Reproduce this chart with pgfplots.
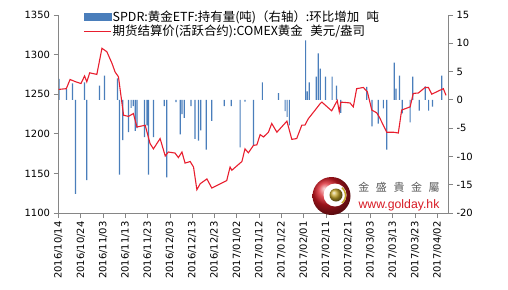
\documentclass[border=0pt]{standalone}
\usepackage{fontspec}
\setmainfont{DejaVu Sans}
\newfontfamily\cjk{Noto Sans CJK SC}
\newfontfamily\cjktc{Noto Sans CJK TC}
\newfontfamily\arial{Liberation Sans}
\usepackage{pgfplots}
\pgfplotsset{compat=1.18}
\definecolor{barblue}{RGB}{74,126,187}
\definecolor{linered}{RGB}{232,30,46}
\definecolor{axgray}{RGB}{134,134,134}
\definecolor{logored}{RGB}{215,25,35}
\definecolor{goldc}{RGB}{196,164,40}
\begin{document}
\begin{tikzpicture}[x=1bp,y=1bp]
\useasboundingbox (0,0) rectangle (508,289);
\pgfplotsset{
  common/.style={
    scale only axis, width=389.5bp, height=198bp,
    at={(58.5bp,76bp)}, anchor=south west,
    xmin=0, xmax=174.8,
    axis line style={axgray, line width=0.8bp},
    tick style={axgray, line width=0.8bp},
    major tick length=5bp, tick align=outside,
    tick label style={font=\fontsize{10}{12}\selectfont, black},
    /pgf/number format/assume math mode=true,
    /pgf/number format/1000 sep={},
    scaled y ticks=false,
  }
}
\begin{axis}[common,
  axis x line=none, axis y line*=right,
  ymin=-20, ymax=15, ytick={-20,-15,...,15},
  yticklabel style={anchor=west},
]
\addplot[ybar, bar width=1.2bp, fill=barblue, draw=none] coordinates {
(0.2,3.7) (3.6,1.9) (6.3,2.9) (7.6,-16.6) (11.7,3.1) (12.7,-14.2)
(18.4,2.5) (20.6,4.3) (26.5,3.8) (27.4,-13.2) (28.8,-7.1) (31.4,-5.7)
(32.6,-1.4) (33.5,-1.1) (34.4,-5.5) (35.2,-5.0) (38.6,-6.6) (39.7,-4.5)
(40.4,-13.2) (42.6,-6.6) (47.5,-1.1) (48.6,-13.7) (52.7,-0.4) (54.6,-6.1)
(55.4,-2.5) (56.4,-3.2) (59.5,-1.1) (61.3,-6.9) (62.8,-7.2) (63.8,-5.4)
(66.3,-8.8) (68.8,-3.7) (74.4,-1.1) (77.5,-1.1) (81.5,-8.4) (83.7,-0.3)
(87.5,-8.1) (91.5,3.1) (98.7,1.2) (101.7,-2.0) (102.6,-3.0) (103.6,-4.5)
(110.9,10.5) (111.6,1.5) (112.5,3.1) (115.7,4.1) (116.6,8.2) (117.5,5.5)
(119.8,4.1) (122.8,4.1) (124.8,2.5) (126.7,-2.3) (138.3,2.3) (140.7,-4.7)
(143.5,-4.2) (145.8,-1.5) (147.3,-8.8) (150.7,6.6) (151.5,2.0) (153.0,4.3)
(154.3,-2.4) (157.8,-4.0) (159.0,4.1) (161.9,-1.9) (164.6,2.4) (166.1,-1.9)
(167.8,-1.2) (172.0,4.3)
};
\end{axis}
\begin{axis}[common,
  axis x line*=bottom, axis y line*=left,
  ymin=1100, ymax=1350, ytick={1100,1150,...,1350},
  xtick={0,10,...,170},
  xticklabels={2016/10/14,2016/10/24,2016/11/03,2016/11/13,2016/11/23,2016/12/03,2016/12/13,2016/12/23,2017/01/02,2017/01/12,2017/01/22,2017/02/01,2017/02/11,2017/02/21,2017/03/03,2017/03/13,2017/03/23,2017/04/02},
  xticklabel style={rotate=90, anchor=east},
  legend style={at={(axis description cs:0.063,1.03)}, anchor=north west,
    draw=none, fill=none, inner sep=0pt, row sep=0bp,
    nodes={inner sep=1.3bp},
    font=\cjk\fontsize{12.5}{13}\selectfont,
    /tikz/every even column/.append style={column sep=1.5bp}},
  legend cell align=left,
]
\addlegendimage{legend image code/.code={\fill[barblue] (0bp,-3.5bp) rectangle (27bp,3.5bp);}}
\addlegendentry{SPDR:黄金ETF:持有量(吨)（右轴）:环比增加\hspace{0.6em}吨}
\addplot[linered, line width=1.1bp, legend image code/.code={\draw[linered, line width=1.1bp] (0bp,0bp) -- (27bp,0bp);}] coordinates {
(0,1256) (3.5,1257) (5.2,1268.6) (7.4,1266) (10.1,1263.5) (11.7,1273)
(12.7,1265.6) (14.0,1277) (17.2,1275) (19.5,1308) (21.7,1303.6) (24.0,1289)
(25.4,1278) (26.9,1272) (29.2,1223.4) (31.4,1222) (33.6,1225.6) (35.2,1208.6)
(38.9,1210.8) (41.1,1187.6) (42.6,1181) (45.6,1194) (47.9,1172) (49.3,1177)
(52.3,1175.7) (53.8,1170) (55.4,1177) (56.8,1163) (59.1,1165) (60.6,1158)
(62.1,1129.4) (63.6,1137) (66.6,1143) (68.8,1131.5) (75.5,1141) (77.0,1158)
(77.8,1154) (82.3,1165) (83.7,1181) (85.2,1176) (87.5,1185.4) (89.0,1186)
(90.5,1199) (92.0,1196) (94.2,1202) (95.7,1213) (98.0,1202) (100.9,1211)
(102.5,1216) (104.7,1193) (106.9,1194) (109.2,1211) (110.6,1211) (112.1,1219)
(115.1,1229.7) (117.4,1238) (118.2,1240) (122.6,1229) (125.1,1242) (126.0,1228)
(126.7,1240) (130.8,1239) (132.3,1234) (133.8,1257) (136.8,1258.5) (138.6,1253)
(140.6,1230) (142.8,1226.5) (144.0,1221) (147.3,1202) (150.3,1202) (152.5,1201)
(154.0,1230) (157.8,1234) (159.2,1251) (161.5,1251.5) (164.5,1258.5) (166.0,1258.5)
(167.5,1250) (171.2,1255) (172.7,1257) (173.9,1248.6)
};
\addlegendentry{期货结算价(活跃合约):COMEX黄金\hspace{0.6em}美元/盎司}
\end{axis}
% watermark logo
\shade[ball color=logored] (331.5,93) circle (19);
\fill[white] (335,94) circle (11.5);
\draw[goldc, line width=1.5bp] (342,86) arc (-50:50:10);
\shade[ball color=goldc] (336,94) circle (6.5);
\node[text=black!65, inner sep=0pt] at (399,102) {\cjktc\fontsize{11}{12}\selectfont 金\hspace{0.6em}盛\hspace{0.6em}貴\hspace{0.6em}金\hspace{0.6em}屬};
\node[text=logored, inner sep=0pt] at (399,84) {\arial\fontsize{12.3}{13}\selectfont www.golday.hk};
\end{tikzpicture}
\end{document}
